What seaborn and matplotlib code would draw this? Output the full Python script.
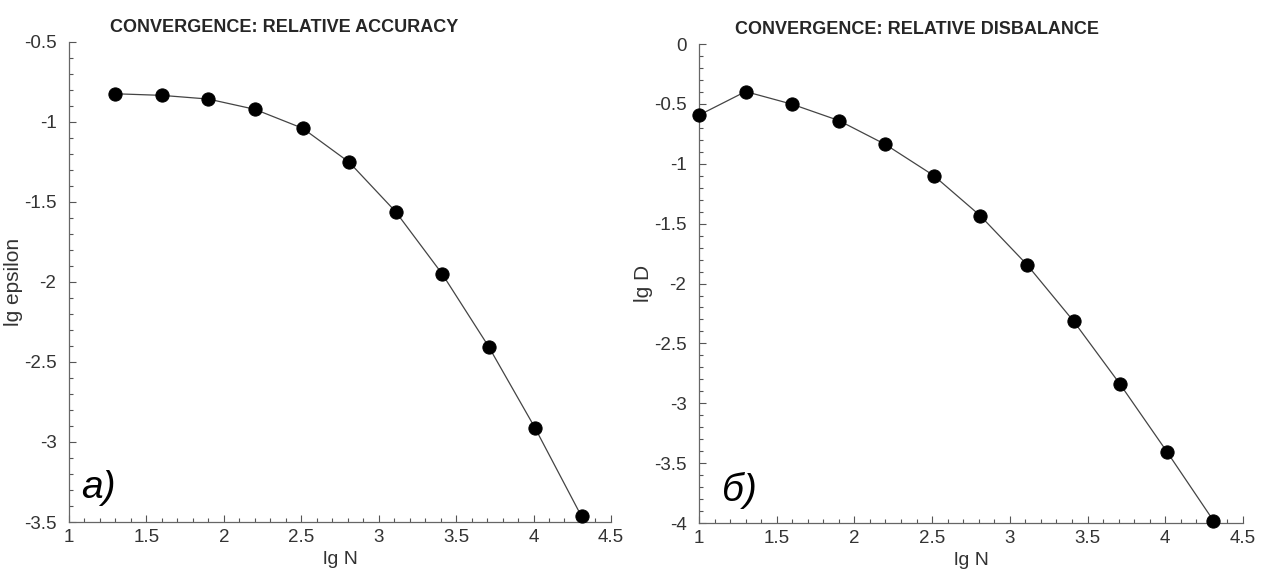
# Convergence plots: relative accuracy and relative disbalance vs lg N
import numpy as np
import pandas as pd
import matplotlib
matplotlib.use('Agg')
import matplotlib.pyplot as plt
from matplotlib.ticker import MultipleLocator
import seaborn as sns

# DATA ---------------------------------------------------
lgN_acc = [1.30, 1.60, 1.90, 2.20, 2.51, 2.81, 3.11, 3.41, 3.71, 4.01, 4.31]
lg_eps = [-0.825, -0.835, -0.858, -0.922, -1.041, -1.253, -1.562, -1.95, -2.404, -2.913, -3.465]

lgN_dis = [1.00, 1.30, 1.60, 1.90, 2.20, 2.51, 2.81, 3.11, 3.41, 3.71, 4.01, 4.31]
lg_D = [-0.594, -0.397, -0.503, -0.639, -0.839, -1.098, -1.434, -1.842, -2.314, -2.842, -3.403, -3.98]

sns.set_style('ticks')
plt.rcParams['font.family'] = ['Liberation Sans', 'DejaVu Sans']

fig = plt.figure(figsize=(12.61, 5.71), dpi=100)
ax1 = fig.add_axes([0.0547, 0.0858, 0.4298, 0.8411])
ax2 = fig.add_axes([0.5543, 0.0840, 0.4314, 0.8389])

df1 = pd.DataFrame({'lgN': lgN_acc, 'val': lg_eps})
df2 = pd.DataFrame({'lgN': lgN_dis, 'val': lg_D})

panels = [
    (ax1, df1, (-3.5, -0.5), 'lg epsilon', 'CONVERGENCE: RELATIVE ACCURACY', 'а)', 0.397, (0.022, 0.05)),
    (ax2, df2, (-4, 0), 'lg D', 'CONVERGENCE: RELATIVE DISBALANCE', 'б)', 0.40, (0.042, 0.045)),
]

for ax, df, ylim, ylab, title, tag, tx, tagpos in panels:
    sns.lineplot(data=df, x='lgN', y='val', ax=ax, color='#444444', linewidth=0.9,
                 marker='o', markersize=9.5, markerfacecolor='black',
                 markeredgecolor='black', zorder=3, clip_on=False)
    ax.set_xlim(1, 4.5)
    ax.set_ylim(*ylim)
    ax.xaxis.set_major_locator(MultipleLocator(0.5))
    ax.xaxis.set_minor_locator(MultipleLocator(0.1))
    ax.yaxis.set_major_locator(MultipleLocator(0.5))
    ax.yaxis.set_minor_locator(MultipleLocator(0.1))
    ax.xaxis.set_major_formatter(matplotlib.ticker.FuncFormatter(lambda v, p: f'{v:g}'))
    ax.yaxis.set_major_formatter(matplotlib.ticker.FuncFormatter(lambda v, p: f'{v:g}'))
    ax.tick_params(which='major', direction='in', length=5, width=0.8, color='#555555',
                   labelsize=13.5, labelcolor='#333333')
    ax.tick_params(axis='y', which='major', pad=9)
    ax.tick_params(axis='x', which='major', pad=5)
    ax.tick_params(which='minor', direction='in', length=3, width=0.8, color='#555555')
    for s in ['top', 'right']:
        ax.spines[s].set_visible(False)
    for s in ['left', 'bottom']:
        ax.spines[s].set_color('#666666')
        ax.spines[s].set_linewidth(0.9)
    ax.set_xlabel('lg N', fontsize=14, color='#333333')
    ax.set_ylabel(ylab, fontsize=15, color='#333333')
    ax.xaxis.set_label_coords(0.5, -0.06)
    ax.yaxis.set_label_coords(-0.084, 0.5)
    ax.set_title(title, fontsize=13, fontweight='bold', x=tx, pad=7)
    ax.text(tagpos[0], tagpos[1], tag, transform=ax.transAxes, fontsize=28, style='italic',
            color='black')

fig.savefig('out.png', dpi=100)
